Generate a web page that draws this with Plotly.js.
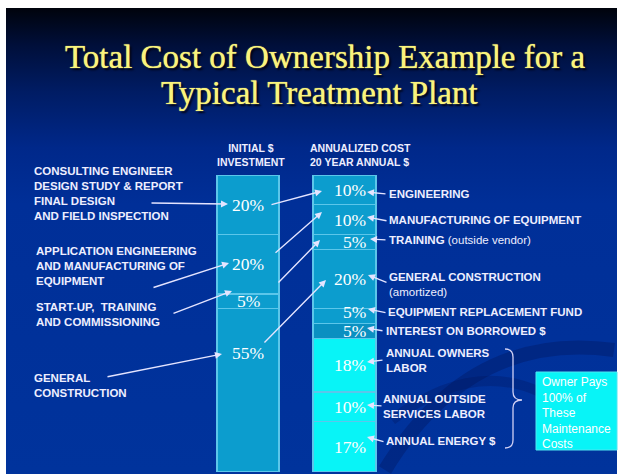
<!DOCTYPE html>
<html><head><meta charset="utf-8">
<script src="https://cdn.plot.ly/plotly-3.0.1.min.js"></script>
<style>
html,body{margin:0;padding:0;background:#fff;}
#wrap{position:relative;width:622px;height:474px;background:#fff;overflow:hidden;}
#slide{position:absolute;left:6px;top:8px;width:611px;height:466px;
 background:linear-gradient(to bottom,#00030c 0%,#000f3a 8%,#001c64 18%,#00288a 30%,#002f98 42%,#00339c 100%);}
#chart{position:absolute;left:0;top:0;width:622px;height:474px;}
</style></head><body>
<div id="wrap"><div id="slide"></div><div id="chart"></div></div>
<script>
// ---------- data ----------
const columns = ["INITIAL $<br>INVESTMENT", "ANNUALIZED COST<br>20 YEAR ANNUAL $"];
// stacked bottom -> top
const initialItems = ["GENERAL<br>CONSTRUCTION",
  "START-UP,  TRAINING<br>AND COMMISSIONING",
  "APPLICATION ENGINEERING<br>AND MANUFACTURING OF<br>EQUIPMENT",
  "CONSULTING ENGINEER<br>DESIGN STUDY & REPORT<br>FINAL DESIGN<br>AND FIELD INSPECTION"];
const initialValues = [55, 5, 20, 20];
const annualItems = ["ANNUAL ENERGY $",
  "ANNUAL OUTSIDE<br>SERVICES LABOR",
  "ANNUAL OWNERS<br>LABOR",
  "INTEREST ON BORROWED $",
  "EQUIPMENT REPLACEMENT FUND",
  "GENERAL CONSTRUCTION<br></b>(amortized)<b>",
  "TRAINING </b>(outside vendor)<b>",
  "MANUFACTURING OF EQUIPMENT",
  "ENGINEERING"];
const annualValues = [17, 10, 18, 5, 5, 20, 5, 10, 10];
const annualMaintenance = [true, true, true, false, false, false, false, false, false];
const noteText = "Owner Pays<br>100% of<br>These<br>Maintenance<br>Costs";
const titleLines = ["Total Cost of Ownership Example for a", "Typical Treatment Plant"];

// ---------- geometry helpers (slide pixels -> paper) ----------
const W = 622, PLOT_TOP = 175, PLOT_BOT = 472, PH = PLOT_BOT - PLOT_TOP;
const PXU = 96.5, X0 = -248 / PXU;
const px = x => x / W;
const py = y => (PLOT_BOT - y) / PH;

const TEAL = '#0c9dce', TEAL_DARK = '#0a90c1', CYAN = '#08f4f7', EDGE = '#5cc6ea';
const TXT = '#eeeeff', ARROW = '#e4e4ff';
const SANS = 'Liberation Sans, Arial, sans-serif', SERIF = 'Liberation Serif, Times New Roman, serif';

const traces = [];
initialValues.forEach((v, i) => traces.push({
  type: 'bar', x: [0], y: [v], width: 0.64, name: initialItems[i],
  marker: {color: TEAL, line: {color: EDGE, width: 1.5}}, hoverinfo: 'skip', showlegend: false
}));
annualValues.forEach((v, i) => traces.push({
  type: 'bar', x: [1], y: [v], width: 0.65, name: annualItems[i],
  marker: {color: annualMaintenance[i] ? CYAN : (i === 3 ? TEAL_DARK : TEAL), line: {color: EDGE, width: 1.5}},
  hoverinfo: 'skip', showlegend: false
}));

const ann = [];
// percentage labels from data
function pctLabels(vals, col) {
  let cum = 0;
  vals.forEach((v, i) => {
    const y = v > 30 ? cum + v - 15 : cum + v / 2;
    // spread labels of two adjacent thin segments a little
    const shift = (v < 8 && i > 0 && vals[i - 1] < 8) ? 4 : 0;
    ann.push({xref: 'x', yref: 'y', x: col, y: y, text: v + '%', showarrow: false,
      xanchor: col === 0 ? 'center' : 'right', yanchor: 'middle', xshift: col === 0 ? 0 : 22, yshift: shift,
      borderpad: 0, font: {family: SERIF, size: 17.5, color: '#ffffff'}});
    cum += v;
  });
}
pctLabels(initialValues, 0);
pctLabels(annualValues, 1);

function txt(x, y, text, font, xanchor, align) {
  ann.push({xref: 'paper', yref: 'paper', x: px(x), y: py(y), text: text, showarrow: false,
    xanchor: xanchor || 'left', yanchor: 'middle', align: align || 'left', font: font});
}

// title
const titleFont = {family: SERIF, size: 33, color: '#faf47c', shadow: '0 0 1px #faf47c, 2px 2px 2px #000010'};
txt(325, 57, titleLines[0], titleFont, 'center', 'center');
txt(319, 93, titleLines[1], titleFont, 'center', 'center');

// column headers
const headFont = {family: SANS, size: 10.5, color: TXT};
txt(251, 155, '<b>' + columns[0] + '</b>', headFont, 'center', 'center');
txt(308, 155, '<b>' + columns[1] + '</b>', headFont, 'left', 'left');

// left labels
const labelFont = {family: SANS, size: 11.5, color: TXT};
const leftPos = [[32, 385], [34, 314], [34, 266], [32, 193]];
initialItems.forEach((t, i) => txt(leftPos[i][0], leftPos[i][1], '<b>' + t + '</b>', labelFont));
// right labels
const rightPos = [[384, 441], [381, 406], [384, 360], [384, 331], [386, 312], [387, 284], [387, 240], [387, 220], [387, 194]];
annualItems.forEach((t, i) => txt(rightPos[i][0], rightPos[i][1], '<b>' + t + '</b>', labelFont));

// arrows [tailX, tailY, tipX, tipY]
const arrows = [
  [150, 203, 228, 204], [152, 288, 229, 263], [172, 314, 232, 291], [106, 377, 222, 354],
  [270, 205, 322, 191], [274, 254, 322, 212], [277, 284, 320, 240], [263, 344, 326, 280],
  [387, 194, 367, 192], [388, 221, 367, 217], [387, 240, 370, 239], [388, 283, 368, 275],
  [387, 313, 368, 309], [384, 331, 367, 328], [384, 360, 367, 362], [383, 406, 367, 405],
  [385, 442, 367, 437]
];
arrows.forEach(a => ann.push({xref: 'paper', yref: 'paper', x: px(a[2]), y: py(a[3]),
  ax: a[0] - a[2], ay: a[1] - a[3], text: '', showarrow: true, arrowhead: 2, arrowsize: 1,
  arrowwidth: 1.4, arrowcolor: ARROW, standoff: 0}));

// note box text
txt(540, 413, noteText, {family: SANS, size: 12, color: '#ffffff'});

// brace path
function P(x, y) { return px(x).toFixed(5) + ',' + py(y).toFixed(5); }
const brace = 'M' + P(505, 349) + ' Q' + P(513, 349) + ' ' + P(513, 357) + ' L' + P(513, 392) +
  ' Q' + P(513, 400) + ' ' + P(522, 400) + ' Q' + P(513, 400) + ' ' + P(513, 408) +
  ' L' + P(513, 440) + ' Q' + P(513, 448) + ' ' + P(505, 448);
const swoosh = 'M' + P(385, 470) + ' Q' + P(470, 330) + ' ' + P(614, 350);
const swoosh2 = 'M' + P(392, 420) + ' Q' + P(470, 360) + ' ' + P(540, 392);

const shapes = [
  {type: 'path', xref: 'paper', yref: 'paper', path: swoosh, line: {color: 'rgba(0,15,80,0.3)', width: 14}, layer: 'below'},
  {type: 'path', xref: 'paper', yref: 'paper', path: swoosh2, line: {color: 'rgba(0,15,80,0.25)', width: 10}, layer: 'below'},
  {type: 'path', xref: 'paper', yref: 'paper', path: brace, line: {color: '#d0d0f4', width: 1.3}},
  {type: 'rect', xref: 'paper', yref: 'paper', x0: px(536), x1: px(617), y0: py(450), y1: py(372),
    fillcolor: CYAN, line: {color: '#4fe6f2', width: 1}}
];

const layout = {
  width: 622, height: 474,
  margin: {l: 0, r: 0, t: PLOT_TOP, b: 474 - PLOT_BOT, pad: 0},
  paper_bgcolor: 'rgba(0,0,0,0)', plot_bgcolor: 'rgba(0,0,0,0)',
  barmode: 'stack', bargap: 0,
  xaxis: {range: [X0, X0 + W / PXU], visible: false, fixedrange: true},
  yaxis: {range: [0, 100], visible: false, fixedrange: true},
  annotations: ann, shapes: shapes, showlegend: false
};
Plotly.newPlot('chart', traces, layout, {displayModeBar: false, staticPlot: true});
</script>
</body></html>
